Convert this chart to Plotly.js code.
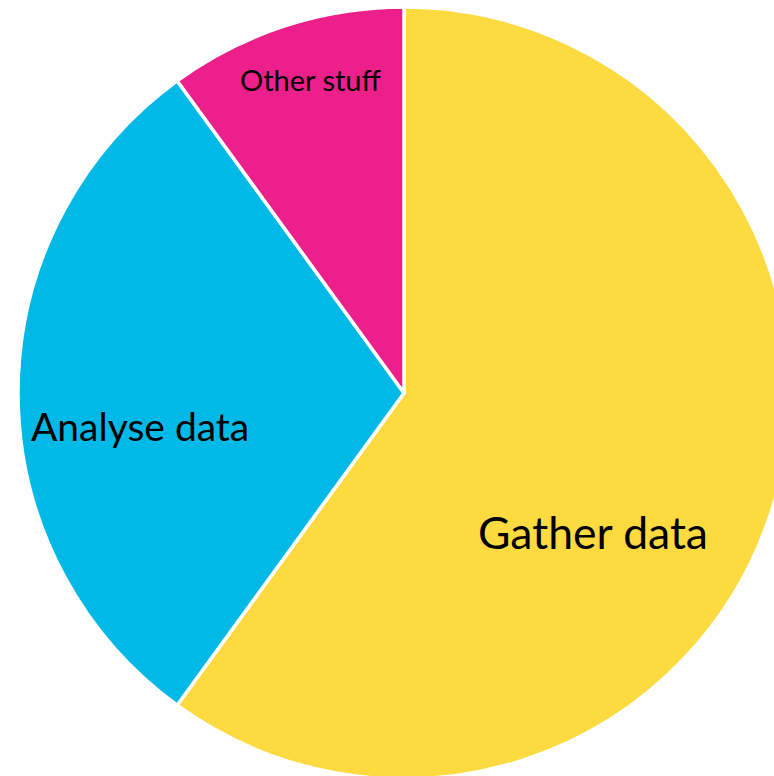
<!DOCTYPE html>
<html>
<head>
<meta charset="utf-8">
<script src="https://cdn.plot.ly/plotly-3.0.1.min.js"></script>
<style>
html,body{margin:0;padding:0;overflow:hidden;background:#fff;}
#chart{width:810px;height:786px;}
</style>
</head>
<body>
<div id="chart"></div>
<script>
const categories = ["Gather data", "Analyse data", "Other stuff"];
const values = [60, 30, 10];
const colors = ["#FDDA3F", "#00B9E6", "#ED1F8B"];

const W = 810, H = 786;
const labelPos = [[593, 531, 44.5], [140, 426, 39], [310, 79, 29]];

const data = [{
  type: "pie",
  labels: categories,
  values: values,
  sort: false,
  direction: "clockwise",
  rotation: 0,
  textinfo: "none",
  hoverinfo: "label+percent",
  marker: {colors: colors, line: {color: "#ffffff", width: 3.5}},
  domain: {x: [18 / W, 790 / W], y: [0, 1]},
  showlegend: false
}];

const annotations = categories.map((c, i) => ({
  text: c,
  x: labelPos[i][0] / W,
  y: 1 - labelPos[i][1] / H,
  xref: "paper", yref: "paper",
  xanchor: "center", yanchor: "middle",
  showarrow: false,
  font: {family: "Lato, 'Open Sans', sans-serif", size: labelPos[i][2], color: "#000"}
}));

const layout = {
  width: W, height: H,
  margin: {l: 0, r: 0, t: 0, b: 0, pad: 0},
  paper_bgcolor: "#ffffff",
  showlegend: false,
  annotations: annotations
};

Plotly.newPlot("chart", data, layout, {displayModeBar: false, staticPlot: true});
</script>
</body>
</html>
